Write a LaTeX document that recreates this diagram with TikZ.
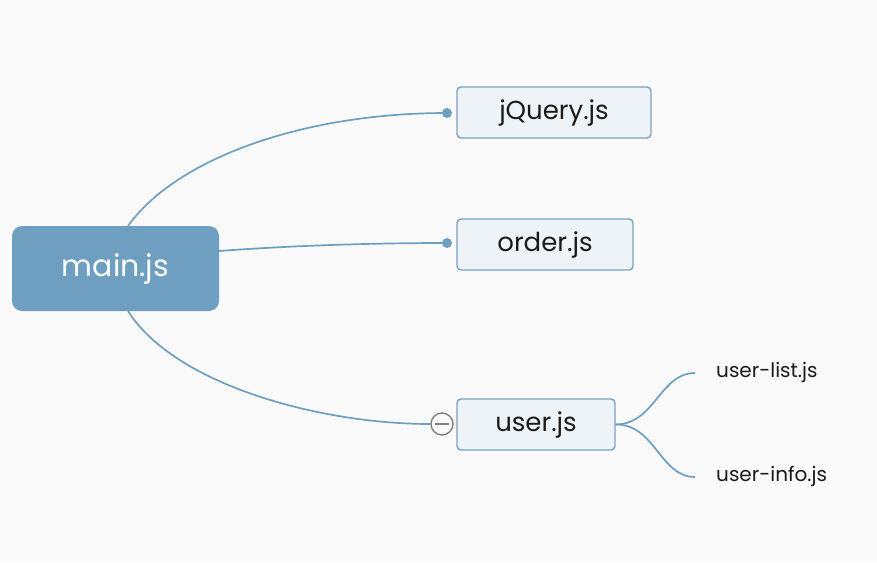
\documentclass[tikz,border=0pt]{standalone}
\usepackage{fontspec}
\setmainfont{Poppins}
\definecolor{mainblue}{HTML}{6F9FC0}
\definecolor{lightfill}{HTML}{EEF3F7}
\definecolor{boxline}{HTML}{7AA2BF}
\definecolor{bg}{HTML}{FAFAFA}
\definecolor{txt}{HTML}{1A1A1A}
\definecolor{gr}{HTML}{7F7F7F}
\tikzset{
  rootbox/.style={draw=none, fill=mainblue, rounded corners=10pt, text=white, font=\fontsize{30}{33}\selectfont, inner sep=0pt},
  childbox/.style={draw=boxline, line width=1.4pt, fill=lightfill, rounded corners=4pt, text=txt, font=\fontsize{26}{29}\selectfont, inner sep=0pt},
  leaf/.style={text=txt, font=\fontsize{20}{23}\selectfont, anchor=west, inner sep=0pt},
  conn/.style={draw=mainblue, line width=1.7pt},
  dot/.style={circle, fill=mainblue, inner sep=0pt, minimum size=10pt},
  fold/.style={circle, draw=gr, fill=bg, line width=1.4pt, inner sep=0pt, minimum size=22pt}
}
\begin{document}
\begin{tikzpicture}[x=1pt,y=-1pt]
\fill[bg] (0,0) rectangle (877,562);
\useasboundingbox (0,0) rectangle (877,562);
\node[rootbox, minimum width=207pt, minimum height=85pt] (main) at (115.5,268.5) {main.js};
\node[childbox, minimum width=194pt, minimum height=51pt] (jq) at (554,112.5) {jQuery.js};
\node[childbox, minimum width=176pt, minimum height=51pt] (ord) at (545,244.5) {order.js};
\node[childbox, minimum width=158pt, minimum height=51pt] (usr) at (536,424.5) {user.js};
\node[leaf] (ul) at (716,372) {user-list.js};
\node[leaf] (ui) at (716,476) {user-info.js};
\coordinate (mt) at (128,226);
\coordinate (mb) at (128,311);
\node[dot] (d1) at (447,113) {};
\node[dot] (d2) at (447,243) {};
\node[fold] (f3) at (442,424) {};
\draw[gr, line width=1.4pt] ([xshift=-7pt]f3.center) -- ([xshift=7pt]f3.center);
\draw[conn] (mt) .. controls (175,160) and (300,113) .. (d1.center);
\draw[conn] (main.east |- 0,251) .. controls (300,245) and (380,243) .. (d2.center);
\draw[conn] (mb) .. controls (175,385) and (320,424) .. (f3.west);
\coordinate (ur) at (usr.east);
\coordinate (ule) at (695,373);
\coordinate (uie) at (695,477);
\draw[conn] (ur) .. controls (655,424) and (660,373) .. (ule);
\draw[conn] (ur) .. controls (655,424) and (660,477) .. (uie);
\end{tikzpicture}
\end{document}
